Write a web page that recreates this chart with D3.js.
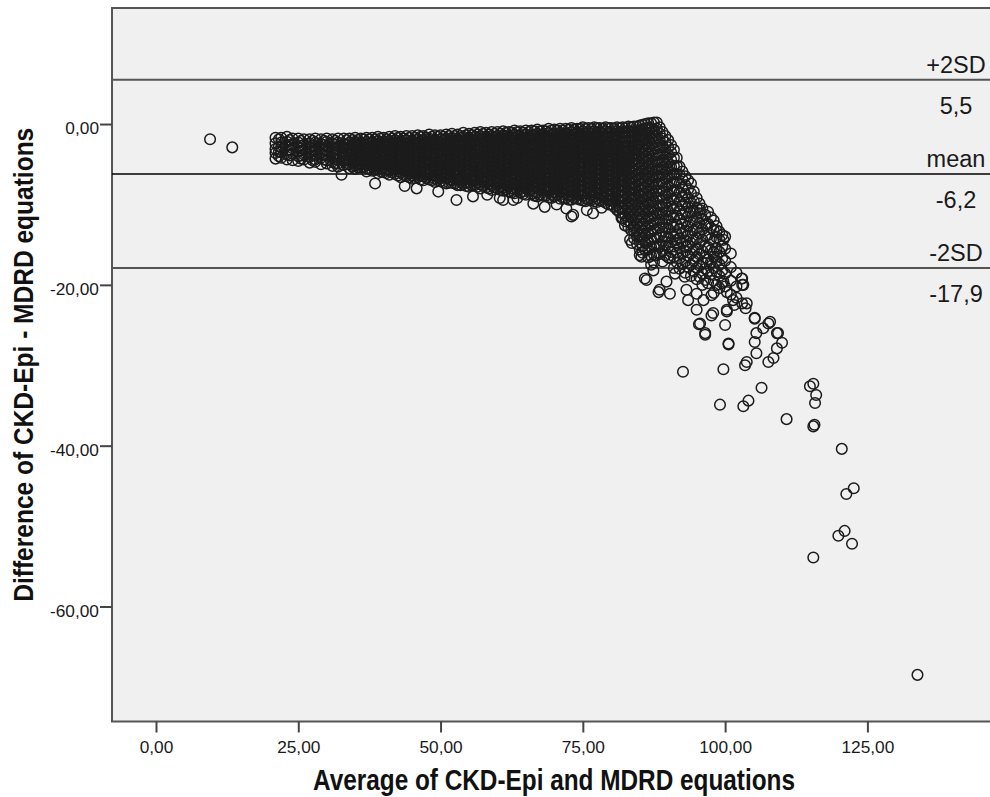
<!DOCTYPE html>
<html>
<head>
<meta charset="utf-8">
<script src="https://d3js.org/d3.v7.min.js"></script>
<style>
    html, body { margin: 0; background: #fff; }
    svg { display: block; }
</style>
</head>
<body>
<svg id="bland-altman" width="990" height="797"></svg>
<script>
// isolated low-GFR cases at the far left
const leftTail = [[9.5, -1.9], [13.4, -2.9]];

// dense band, read column by column: [average, [differences]]
const bandColumns = [
    [21, [-1.7, -2.4, -3.1, -3.6, -4.3]],
    [21.6, [-1.9, -2.8, -3.4, -4.0]],
    [22, [-1.7, -2.3, -2.9, -3.5, -4.2]],
    [23, [-1.6, -2.2, -2.7, -3.3, -3.8, -4.4]],
    [24, [-1.8, -2.5, -3.0, -3.7, -4.5]],
    [25, [-1.8, -2.3, -2.9, -3.4, -4.0, -4.6]],
    [26, [-1.9, -2.6, -3.2, -3.8, -4.4]],
    [27, [-1.9, -2.4, -3.0, -3.5, -4.1, -4.8]],
    [28, [-1.8, -2.3, -2.8, -3.3, -3.9, -4.4, -4.7]],
    [29, [-1.9, -2.5, -3.1, -3.6, -4.2, -5.0]],
    [30, [-1.8, -2.2, -2.8, -3.4, -3.9, -4.5, -4.9]],
    [31, [-1.9, -2.4, -3.0, -3.5, -4.1, -4.7, -5.2]],
    [32, [-1.8, -2.3, -2.8, -3.3, -3.8, -4.4, -4.9, -5.3]],
    [33, [-1.8, -2.5, -3.0, -3.6, -4.2, -4.6, -5.1]],
    [34, [-1.8, -2.3, -2.9, -3.4, -3.9, -4.5, -5.0, -5.5]],
    [35, [-1.7, -2.2, -2.7, -3.2, -3.7, -4.3, -4.8, -5.2, -5.6]],
    [36, [-1.8, -2.4, -2.9, -3.5, -4.0, -4.6, -5.0, -5.4]],
    [37, [-1.7, -2.2, -2.7, -3.1, -3.6, -4.1, -4.6, -5.1, -5.5, -5.9]],
    [38, [-1.7, -2.3, -2.8, -3.3, -3.9, -4.4, -4.9, -5.3, -5.8]],
    [39, [-1.6, -2.1, -2.6, -3.1, -3.6, -4.2, -4.7, -5.2, -5.6, -6.1]],
    [40, [-1.7, -2.2, -2.8, -3.3, -3.8, -4.3, -4.8, -5.4, -6.0]],
    [41, [-1.6, -2.1, -2.6, -3.2, -3.7, -4.2, -4.7, -5.2, -5.8, -6.3]],
    [42, [-1.5, -2.0, -2.5, -3.0, -3.5, -4.0, -4.6, -5.1, -5.6, -6.2]],
    [43, [-1.6, -2.2, -2.7, -3.3, -3.8, -4.4, -4.9, -5.5, -6.0, -6.6]],
    [44, [-1.5, -2.0, -2.5, -3.0, -3.6, -4.1, -4.7, -5.3, -5.8, -6.5]],
    [45, [-1.5, -2.1, -2.7, -3.2, -3.8, -4.3, -4.9, -5.4, -6.0, -6.4, -6.8]],
    [46, [-1.4, -1.9, -2.4, -3.0, -3.5, -4.0, -4.6, -5.1, -5.7, -6.2, -6.6]],
    [47, [-1.5, -2.0, -2.6, -3.1, -3.7, -4.2, -4.8, -5.3, -5.9, -6.5, -7.0]],
    [48, [-1.3, -1.8, -2.3, -2.9, -3.4, -3.9, -4.5, -5.0, -5.6, -6.1, -6.9]],
    [49, [-1.4, -2.0, -2.5, -3.1, -3.6, -4.2, -4.7, -5.3, -5.8, -6.4, -6.8, -7.2]],
    [50, [-1.4, -1.9, -2.4, -3.0, -3.5, -4.0, -4.6, -5.1, -5.7, -6.2, -6.7, -7.1]],
    [51, [-1.3, -1.8, -2.4, -2.9, -3.4, -4.0, -4.5, -5.0, -5.6, -6.1, -6.7, -7.4]],
    [52, [-1.2, -1.7, -2.2, -2.8, -3.3, -3.8, -4.4, -4.9, -5.5, -6.0, -6.6, -7.0, -7.3]],
    [53, [-1.3, -1.9, -2.4, -3.0, -3.5, -4.1, -4.6, -5.2, -5.7, -6.3, -6.9, -7.6]],
    [54, [-1.1, -1.6, -2.1, -2.7, -3.2, -3.7, -4.3, -4.8, -5.4, -5.9, -6.5, -7.0, -7.5]],
    [55, [-1.2, -1.8, -2.3, -2.9, -3.4, -4.0, -4.5, -5.1, -5.6, -6.2, -6.8, -7.3, -7.8]],
    [56, [-1.1, -1.6, -2.1, -2.6, -3.2, -3.7, -4.2, -4.8, -5.3, -5.9, -6.4, -7.0, -7.6]],
    [57, [-1.0, -1.5, -2.0, -2.6, -3.1, -3.6, -4.2, -4.7, -5.2, -5.8, -6.3, -6.9, -7.5, -8.0]],
    [58, [-1.1, -1.6, -2.2, -2.7, -3.3, -3.8, -4.4, -4.9, -5.5, -6.0, -6.6, -7.1, -7.9]],
    [59, [-1.0, -1.5, -2.0, -2.6, -3.1, -3.7, -4.2, -4.8, -5.3, -5.9, -6.4, -7.0, -7.6, -8.2]],
    [60, [-1.0, -1.5, -2.1, -2.6, -3.2, -3.7, -4.3, -4.8, -5.4, -5.9, -6.5, -7.0, -7.5, -8.0]],
    [61, [-0.9, -1.4, -1.9, -2.5, -3.0, -3.5, -4.1, -4.6, -5.2, -5.7, -6.3, -6.8, -7.4, -7.9, -8.3]],
    [62, [-1.0, -1.6, -2.1, -2.7, -3.2, -3.8, -4.3, -4.9, -5.4, -6.0, -6.5, -7.1, -7.7, -8.4]],
    [63, [-0.8, -1.3, -1.8, -2.4, -2.9, -3.5, -4.0, -4.6, -5.1, -5.7, -6.2, -6.8, -7.3, -7.9, -8.6]],
    [64, [-0.9, -1.5, -2.0, -2.6, -3.1, -3.7, -4.2, -4.8, -5.3, -5.9, -6.4, -7.0, -7.6, -8.1, -8.5]],
    [65, [-0.8, -1.3, -1.9, -2.4, -3.0, -3.5, -4.1, -4.6, -5.2, -5.7, -6.3, -6.9, -7.4, -8.0, -8.8]],
    [66, [-0.8, -1.4, -1.9, -2.5, -3.0, -3.6, -4.1, -4.7, -5.2, -5.8, -6.4, -6.9, -7.5, -8.1, -8.7]],
    [67, [-0.7, -1.2, -1.8, -2.3, -2.9, -3.4, -4.0, -4.5, -5.1, -5.6, -6.2, -6.8, -7.3, -7.9, -8.5, -9.0]],
    [68, [-0.8, -1.3, -1.9, -2.4, -3.0, -3.5, -4.1, -4.6, -5.2, -5.8, -6.3, -6.9, -7.4, -8.0, -8.9]],
    [69, [-0.6, -1.1, -1.7, -2.2, -2.8, -3.3, -3.9, -4.4, -5.0, -5.5, -6.1, -6.7, -7.2, -7.8, -8.4, -9.1]],
    [70, [-0.7, -1.2, -1.8, -2.3, -2.9, -3.4, -4.0, -4.5, -5.1, -5.7, -6.2, -6.8, -7.3, -7.9, -8.5, -9.0]],
    [71, [-0.6, -1.1, -1.7, -2.2, -2.8, -3.3, -3.9, -4.4, -5.0, -5.6, -6.1, -6.7, -7.3, -7.8, -8.4, -9.3]],
    [72, [-0.6, -1.2, -1.7, -2.3, -2.8, -3.4, -3.9, -4.5, -5.1, -5.6, -6.2, -6.8, -7.4, -8.0, -8.6, -9.2]],
    [73, [-0.5, -1.0, -1.6, -2.1, -2.7, -3.2, -3.8, -4.3, -4.9, -5.5, -6.0, -6.6, -7.2, -7.8, -8.3, -8.9, -9.4]],
    [74, [-0.6, -1.1, -1.7, -2.2, -2.8, -3.3, -3.9, -4.5, -5.0, -5.6, -6.2, -6.7, -7.3, -7.9, -8.5, -9.3]],
    [75, [-0.4, -0.9, -1.5, -2.0, -2.6, -3.1, -3.7, -4.2, -4.8, -5.4, -5.9, -6.5, -7.1, -7.7, -8.3, -8.9, -9.5]],
    [76, [-0.5, -1.0, -1.6, -2.1, -2.7, -3.2, -3.8, -4.4, -4.9, -5.5, -6.1, -6.7, -7.3, -7.9, -8.5, -9.4]],
    [77, [-0.4, -0.9, -1.5, -2.0, -2.6, -3.1, -3.7, -4.3, -4.8, -5.4, -6.0, -6.6, -7.2, -7.8, -8.4, -9.0, -9.6]],
    [78, [-0.5, -1.0, -1.6, -2.1, -2.7, -3.3, -3.8, -4.4, -5.0, -5.6, -6.2, -6.8, -7.4, -8.0, -8.7, -9.5]],
    [79, [-0.4, -0.9, -1.5, -2.0, -2.6, -3.2, -3.7, -4.3, -4.9, -5.5, -6.1, -6.7, -7.3, -7.9, -8.5, -9.2, -9.8]],
    [80, [-0.5, -1.0, -1.6, -2.2, -2.7, -3.3, -3.9, -4.5, -5.1, -5.7, -6.3, -6.9, -7.5, -8.1, -8.8, -9.4, -10.0]],
    [81, [-0.4, -0.9, -1.5, -2.1, -2.6, -3.2, -3.8, -4.4, -5.0, -5.6, -6.2, -6.8, -7.4, -8.0, -8.7, -9.4, -10.1, -10.7]],
    [82, [-0.4, -1.0, -1.6, -2.2, -2.8, -3.4, -4.0, -4.6, -5.2, -5.8, -6.4, -7.0, -7.6, -8.3, -9.0, -9.7, -10.4, -11.1, -11.7]],
    [83, [-0.3, -0.9, -1.5, -2.1, -2.7, -3.3, -3.9, -4.5, -5.1, -5.7, -6.3, -6.9, -7.6, -8.3, -9.0, -9.7, -10.4, -11.2, -12.0, -12.8]],
    [84, [-0.3, -0.9, -1.5, -2.1, -2.7, -3.3, -3.9, -4.5, -5.2, -5.9, -6.6, -7.3, -8.0, -8.7, -9.4, -10.2, -11.0, -11.8, -12.6, -13.4, -14.2]],
    [85, [-0.2, -0.8, -1.4, -2.0, -2.6, -3.3, -4.0, -4.7, -5.4, -6.1, -6.8, -7.5, -8.2, -8.9, -9.7, -10.5, -11.3, -12.1, -12.9, -13.8, -14.7, -15.6, -16.3]],
    [86, [0.0, -0.6, -1.2, -1.9, -2.6, -3.3, -4.0, -4.7, -5.5, -6.3, -7.1, -7.9, -8.7, -9.5, -10.3, -11.1, -12.0, -12.9, -13.8, -14.8, -15.7]],
    [87, [0.1, -0.5, -1.1, -1.8, -2.5, -3.3, -4.1, -4.9, -5.7, -6.5, -7.3, -8.1, -8.9, -9.8, -10.7, -11.6, -12.5, -13.4, -14.3, -15.3, -16.4, -17.5]],
    [88, [0.2, -0.6, -1.4, -2.2, -3.0, -3.9, -4.8, -5.7, -6.6, -7.5, -8.4, -9.3, -10.2, -11.1, -12.0, -13.0, -14.1, -15.2, -16.3]],
    [89, [-1.0, -1.8, -2.7, -3.6, -4.5, -5.4, -6.3, -7.3, -8.3, -9.3, -10.3, -11.3, -12.4, -13.4, -14.6, -15.8, -17.1]],
    [90, [-2.0, -2.9, -3.8, -4.8, -5.7, -6.7, -7.7, -8.7, -9.7, -10.8, -11.9, -13.0, -14.1, -15.3, -16.6]],
    [91, [-3.2, -4.2, -5.2, -6.2, -7.2, -8.3, -9.4, -10.5, -11.6, -12.8, -14.0, -15.2, -16.5, -17.9]],
    [92, [-5.3, -6.3, -7.4, -8.5, -9.6, -10.7, -11.8, -13.0, -14.2, -15.4, -16.7, -18.0]],
    [93, [-6.5, -7.6, -8.7, -9.8, -10.9, -12.1, -13.3, -14.5, -15.8, -17.1, -18.5]],
    [94, [-7.4, -8.6, -9.8, -11.0, -12.2, -13.5, -14.8, -16.1, -17.5, -18.9]],
    [95, [-9.2, -10.4, -11.6, -12.9, -14.2, -15.6, -16.5, -17.9, -19.3]],
    [96, [-10.5, -11.8, -13.1, -14.4, -15.8, -17.2, -18.6, -20.0]],
    [97, [-10.9, -12.4, -13.8, -15.3, -16.8, -18.3, -19.8]],
    [98, [-12.0, -13.2, -14.6, -16.0, -16.5, -17.9, -19.5, -21.0]],
    [99, [-13.4, -14.4, -15.9, -17.4, -18.9, -20.4]],
    [100, [-14.0, -15.5, -17.0, -18.6, -20.2]],
    [101, [-16.1, -17.8, -19.5, -21.2]],
    [102, [-18.5, -20.2, -21.6]],
    [103, [-19.2, -20.0, -22.3]]
];

// second pass over the band, between the columns above
const bandColumnsBetween = [
    [23.5, [-2.0, -2.6, -3.2, -3.9]],
    [25.5, [-2.1, -2.7, -3.3, -3.9, -4.3]],
    [27.5, [-2.1, -2.7, -3.3, -3.9, -4.5]],
    [29.5, [-2.1, -2.6, -3.2, -3.8, -4.4]],
    [31.5, [-2.1, -2.6, -3.2, -3.8, -4.4, -4.9]],
    [33.5, [-2.0, -2.6, -3.2, -3.8, -4.4, -5.0]],
    [34.5, [-2.0, -2.6, -3.1, -3.7, -4.2, -4.8, -5.3]],
    [35.5, [-2.0, -2.5, -3.0, -3.5, -4.0, -4.5, -5.0, -5.4]],
    [36.5, [-1.9, -2.5, -3.1, -3.7, -4.3, -4.8, -5.3]],
    [37.5, [-1.9, -2.4, -3.0, -3.5, -4.0, -4.5, -5.0, -5.6]],
    [38.5, [-1.9, -2.5, -3.0, -3.6, -4.1, -4.7, -5.2, -5.7]],
    [39.5, [-1.8, -2.4, -2.9, -3.4, -4.0, -4.5, -5.0, -5.5, -5.9]],
    [40.5, [-1.9, -2.5, -3.0, -3.6, -4.1, -4.6, -5.1, -5.7, -6.1]],
    [41.5, [-1.8, -2.3, -2.9, -3.4, -4.0, -4.5, -5.0, -5.5, -6.0]],
    [42.5, [-1.7, -2.3, -2.8, -3.3, -3.8, -4.3, -4.9, -5.4, -5.9, -6.4]],
    [43.5, [-1.8, -2.4, -3.0, -3.5, -4.1, -4.6, -5.2, -5.7, -6.3]],
    [44.5, [-1.7, -2.3, -2.8, -3.3, -3.9, -4.4, -5.0, -5.6, -6.1, -6.6]],
    [45.5, [-1.7, -2.4, -2.9, -3.5, -4.0, -4.6, -5.1, -5.7, -6.2, -6.7]],
    [46.5, [-1.6, -2.2, -2.7, -3.2, -3.8, -4.3, -4.9, -5.4, -5.9, -6.4, -6.9]],
    [47.5, [-1.7, -2.3, -2.8, -3.4, -3.9, -4.5, -5.0, -5.6, -6.2, -6.7]],
    [48.5, [-1.6, -2.1, -2.6, -3.1, -3.7, -4.2, -4.8, -5.3, -5.8, -6.4, -7.0]],
    [49.5, [-1.6, -2.2, -2.8, -3.3, -3.9, -4.4, -5.0, -5.5, -6.1, -6.6, -7.0]],
    [50.5, [-1.6, -2.1, -2.7, -3.2, -3.8, -4.3, -4.8, -5.4, -5.9, -6.5, -7.2]],
    [51.5, [-1.5, -2.1, -2.6, -3.2, -3.7, -4.2, -4.8, -5.3, -5.8, -6.4, -6.9, -7.3]],
    [52.5, [-1.5, -2.0, -2.5, -3.1, -3.6, -4.1, -4.7, -5.2, -5.8, -6.3, -6.8, -7.4]],
    [53.5, [-1.5, -2.1, -2.7, -3.2, -3.8, -4.3, -4.9, -5.4, -6.0, -6.6, -7.2, -7.6]],
    [54.5, [-1.4, -1.9, -2.4, -3.0, -3.5, -4.0, -4.6, -5.1, -5.7, -6.2, -6.8, -7.3, -7.7]],
    [55.5, [-1.4, -2.0, -2.6, -3.1, -3.7, -4.2, -4.8, -5.3, -5.9, -6.5, -7.0, -7.6]],
    [56.5, [-1.3, -1.8, -2.4, -2.9, -3.4, -4.0, -4.5, -5.0, -5.6, -6.1, -6.7, -7.3, -7.8]],
    [57.5, [-1.2, -1.8, -2.3, -2.8, -3.4, -3.9, -4.4, -5.0, -5.5, -6.1, -6.6, -7.2, -7.7]],
    [58.5, [-1.3, -1.9, -2.4, -3.0, -3.5, -4.1, -4.6, -5.2, -5.7, -6.3, -6.8, -7.4, -8.0]],
    [59.5, [-1.2, -1.7, -2.3, -2.8, -3.4, -3.9, -4.5, -5.0, -5.6, -6.1, -6.7, -7.3, -7.9]],
    [60.5, [-1.2, -1.8, -2.3, -2.9, -3.4, -4.0, -4.5, -5.1, -5.6, -6.2, -6.7, -7.3, -7.8, -8.2]],
    [61.5, [-1.1, -1.6, -2.2, -2.7, -3.3, -3.8, -4.3, -4.9, -5.4, -6.0, -6.5, -7.1, -7.6, -8.1]],
    [62.5, [-1.1, -1.7, -2.3, -2.9, -3.5, -4.0, -4.6, -5.1, -5.7, -6.2, -6.8, -7.4, -8.0, -8.5]],
    [63.5, [-1.0, -1.5, -2.1, -2.6, -3.2, -3.7, -4.3, -4.8, -5.4, -5.9, -6.5, -7.1, -7.6, -8.2]],
    [64.5, [-1.1, -1.7, -2.2, -2.8, -3.3, -3.9, -4.5, -5.0, -5.6, -6.1, -6.7, -7.3, -7.8, -8.4, -8.7]],
    [65.5, [-1.0, -1.6, -2.1, -2.7, -3.2, -3.8, -4.3, -4.9, -5.4, -6.0, -6.6, -7.1, -7.7, -8.3]],
    [66.5, [-0.9, -1.5, -2.1, -2.6, -3.2, -3.8, -4.3, -4.9, -5.4, -6.0, -6.6, -7.2, -7.8, -8.4, -8.9]],
    [67.5, [-0.9, -1.4, -2.0, -2.6, -3.1, -3.7, -4.2, -4.8, -5.3, -5.9, -6.5, -7.0, -7.6, -8.2, -8.8]],
    [68.5, [-0.9, -1.5, -2.1, -2.7, -3.2, -3.8, -4.3, -4.9, -5.5, -6.0, -6.6, -7.2, -7.7, -8.3, -8.9]],
    [69.5, [-0.8, -1.4, -1.9, -2.5, -3.0, -3.6, -4.2, -4.7, -5.3, -5.8, -6.4, -7.0, -7.5, -8.1, -8.7, -9.2]],
    [70.5, [-0.8, -1.4, -2.0, -2.6, -3.1, -3.7, -4.2, -4.8, -5.4, -5.9, -6.5, -7.1, -7.6, -8.2, -8.8]],
    [71.5, [-0.8, -1.3, -1.9, -2.4, -3.0, -3.6, -4.1, -4.7, -5.3, -5.8, -6.4, -7.0, -7.6, -8.1, -8.7, -9.2]],
    [72.5, [-0.7, -1.3, -1.9, -2.5, -3.1, -3.6, -4.2, -4.8, -5.3, -5.9, -6.5, -7.1, -7.7, -8.3, -8.9, -9.4]],
    [73.5, [-0.7, -1.3, -1.8, -2.4, -3.0, -3.5, -4.1, -4.6, -5.2, -5.8, -6.3, -6.9, -7.5, -8.1, -8.6, -9.2]],
    [74.5, [-0.6, -1.2, -1.8, -2.4, -3.0, -3.6, -4.2, -4.7, -5.3, -5.9, -6.5, -7.0, -7.6, -8.2, -8.8, -9.4]],
    [75.5, [-0.6, -1.2, -1.8, -2.3, -2.9, -3.4, -4.0, -4.5, -5.1, -5.7, -6.2, -6.8, -7.4, -8.0, -8.6, -9.2, -9.6]],
    [76.5, [-0.6, -1.2, -1.8, -2.4, -2.9, -3.5, -4.1, -4.6, -5.2, -5.8, -6.4, -7.0, -7.6, -8.2, -8.8, -9.4]],
    [77.5, [-0.5, -1.1, -1.7, -2.3, -2.9, -3.4, -4.0, -4.6, -5.1, -5.7, -6.3, -6.9, -7.5, -8.1, -8.7, -9.3, -9.7]],
    [78.5, [-0.6, -1.2, -1.8, -2.4, -3.0, -3.5, -4.1, -4.7, -5.3, -5.9, -6.5, -7.1, -7.7, -8.3, -8.9, -9.6]],
    [79.5, [-0.5, -1.1, -1.7, -2.3, -2.9, -3.4, -4.0, -4.6, -5.2, -5.8, -6.4, -7.0, -7.6, -8.2, -8.8, -9.5, -10.0]],
    [80.5, [-0.6, -1.2, -1.8, -2.4, -3.0, -3.6, -4.2, -4.8, -5.4, -6.0, -6.6, -7.2, -7.8, -8.5, -9.1, -9.7, -10.3]],
    [81.5, [-0.5, -1.1, -1.7, -2.3, -2.9, -3.5, -4.1, -4.7, -5.3, -5.9, -6.5, -7.1, -7.7, -8.4, -9.0, -9.7, -10.4, -11.0]],
    [82.5, [-0.5, -1.1, -1.7, -2.3, -3.0, -3.6, -4.2, -4.8, -5.4, -6.0, -6.6, -7.3, -7.9, -8.6, -9.3, -10.0, -10.7, -11.4, -12.1]],
    [83.5, [-0.4, -1.0, -1.7, -2.3, -2.9, -3.5, -4.1, -4.8, -5.4, -6.0, -6.7, -7.3, -8.0, -8.6, -9.3, -10.0, -10.8, -11.6, -12.4, -13.2]],
    [84.5, [-0.3, -0.9, -1.6, -2.3, -2.9, -3.6, -4.3, -5.0, -5.7, -6.4, -7.1, -7.8, -8.5, -9.2, -10.0, -10.8, -11.6, -12.4, -13.2, -14.0, -14.9]],
    [85.5, [-0.1, -0.7, -1.4, -2.1, -2.8, -3.5, -4.2, -5.0, -5.8, -6.6, -7.4, -8.2, -9.0, -9.8, -10.6, -11.5, -12.4, -13.3, -14.2, -15.2, -16.0]],
    [86.5, [0.1, -0.5, -1.2, -2.0, -2.8, -3.6, -4.4, -5.2, -6.0, -6.8, -7.6, -8.4, -9.2, -10.0, -10.9, -11.8, -12.7, -13.6, -14.6, -15.6, -16.6]],
    [87.5, [0.2, -0.7, -1.5, -2.3, -3.1, -3.9, -4.7, -5.5, -6.3, -7.1, -7.9, -8.7, -9.6, -10.5, -11.4, -12.3, -13.2, -14.2, -15.2, -16.2, -17.2]],
    [88.5, [-0.4, -1.2, -2.0, -2.9, -3.8, -4.7, -5.6, -6.5, -7.4, -8.3, -9.2, -10.1, -11.0, -11.9, -12.9, -13.9, -15.0, -16.1]],
    [89.5, [-1.5, -2.3, -3.2, -4.1, -5.0, -5.9, -6.8, -7.8, -8.8, -9.8, -10.8, -11.8, -12.9, -14.0, -15.1, -16.3]],
    [90.5, [-2.6, -3.5, -4.4, -5.3, -6.3, -7.3, -8.3, -9.3, -10.3, -11.4, -12.5, -13.6, -14.7, -15.9]],
    [91.5, [-4.2, -5.2, -6.2, -7.2, -8.2, -9.2, -10.3, -11.4, -12.5, -13.6, -14.8, -16.0, -17.2]],
    [92.5, [-5.9, -6.9, -7.9, -9.0, -10.1, -11.2, -12.4, -13.6, -14.8, -16.1, -17.4]],
    [93.5, [-7.0, -8.1, -9.2, -10.3, -11.5, -12.7, -13.9, -15.1, -16.4, -17.8]],
    [94.5, [-8.4, -9.6, -10.8, -12.0, -13.2, -14.4, -15.7, -17.0, -18.3]],
    [95.5, [-9.9, -11.1, -12.3, -13.6, -14.9, -16.2, -17.6, -19.0]],
    [96.5, [-11.3, -12.6, -13.9, -15.2, -16.6, -18.0, -19.4]],
    [97.5, [-11.6, -12.9, -14.3, -15.7, -17.2, -18.7]],
    [98.5, [-12.7, -14.1, -15.5, -17.0, -18.4, -20.0]],
    [99.5, [-13.8, -15.2, -16.7, -18.2, -19.8]]
];

// loose circles under the band
const strayPoints = [
    [32.6, -6.3], [38.5, -7.4], [43.7, -7.7], [45.8, -8.0], [49.6, -8.4],
    [52.8, -9.45], [55.7, -9.0], [61, -9.45], [63.5, -9.2], [68.3, -10.3],
    [72.1, -10.5], [73.3, -11.3], [76.8, -11.1], [73, -11.5], [81.2, -10.7],
    [81.8, -11.7], [82.4, -12.6], [83.3, -14.4], [83.6, -14.8], [85, -13.8],
    [83.9, -12.8], [66.3, -9.9], [60.4, -9.2], [62.8, -9.45], [58.2, -8.8],
    [75.7, -10.7], [79.8, -9.45], [70.4, -10.0], [78.3, -10.4]
];

// lower, sparser part of the falling arm
const armPoints = [
    [85.3, -16.5], [86.2, -19.4], [87.4, -18.2], [88.3, -20.9], [89.7, -19.6],
    [91.2, -18.6], [92.9, -19.0], [93.2, -20.6], [95, -21.1], [96.2, -21.9],
    [97.6, -21.3], [99.7, -19.6], [100.3, -20.9], [101.4, -21.9], [102.9, -19.2],
    [103.2, -20.0], [103.8, -22.3], [105.2, -24.2], [105.5, -26.0], [107.9, -24.6],
    [109.3, -26.0], [95.6, -24.8], [96.5, -26.0], [100.6, -27.3], [97.9, -23.5],
    [100.3, -23.1], [90.3, -16.7], [88.5, -15.3], [93.5, -21.9], [98.5, -16.5],
    [96.7, -17.3], [95, -16.5], [93.2, -15.3], [91.5, -14.4], [99.7, -14.4],
    [98.5, -13.2], [96.7, -12.4], [95.6, -10.7], [90.3, -21.1], [88.5, -20.6],
    [85.9, -19.2], [95, -23.1], [95.4, -24.9], [96.5, -26.2], [97.6, -23.8],
    [100, -25.0], [100.6, -27.4], [100.3, -23.3], [103.6, -22.9], [105.2, -24.1],
    [107.6, -24.8], [106.7, -25.4], [109.1, -26.0], [110, -27.2], [105.2, -27.1],
    [105.5, -28.5], [107.6, -29.6], [108.5, -29.1], [109.1, -27.9], [103.5, -30.0],
    [103.8, -29.6], [101.6, -22.5]
];

// far outliers
const outliers = [
    [92.6, -30.8], [99.7, -30.5], [99.1, -34.9], [103.2, -35.1], [104.1, -34.4],
    [106.4, -32.8], [110.8, -36.7], [114.9, -32.6], [115.5, -32.3], [116, -33.7],
    [115.8, -34.7], [115.5, -37.6], [115.7, -37.4], [120.5, -40.4], [122.6, -45.3],
    [121.3, -46.0], [121, -50.6], [119.9, -51.2], [122.3, -52.2], [115.5, -53.9],
    [133.8, -68.5]
];

const limitNames = ['+2SD', 'mean', '-2SD'];
const limitValues = [5.5, -6.2, -17.9];

const xTicks = [0, 25, 50, 75, 100, 125];
const yTicks = [0, -20, -40, -60];

const xTitle = 'Average of CKD-Epi and MDRD equations';
const yTitle = 'Difference of CKD-Epi - MDRD equations';

const plot = {left: 112, top: 8, right: 1000, bottom: 721.5};

const locale = d3.formatLocale({
    decimal: ',', thousands: '.', grouping: [3], currency: ['', ''], minus: '-'
});
const fmtTick = locale.format('.2f');
const fmtLimit = locale.format('.1f');

const xScale = d3.scaleLinear()
    .domain([-7.73, 148.3])
    .range([plot.left, plot.right]);

const yScale = d3.scaleLinear()
    .domain([14.43, -74.3])
    .range([plot.top, plot.bottom]);

const columnsToPoints = (cols) => cols.flatMap(([x, ys]) => ys.map(y => [x, y]));

const points = [].concat(
    leftTail,
    columnsToPoints(bandColumns),
    columnsToPoints(bandColumnsBetween),
    strayPoints,
    armPoints,
    outliers
);

const svg = d3.select('#bland-altman');

svg.append('rect')
    .attr('x', plot.left)
    .attr('y', plot.top)
    .attr('width', plot.right - plot.left)
    .attr('height', plot.bottom - plot.top)
    .attr('fill', '#f0f0f0')
    .attr('stroke', '#555')
    .attr('stroke-width', 2);

const limits = limitNames.map((name, i) => ({name, value: limitValues[i]}));

svg.selectAll('.limit').data(limits)
    .enter().append('line')
        .attr('class', 'limit')
        .attr('x1', plot.left)
        .attr('x2', plot.right)
        .attr('y1', d => yScale(d.value))
        .attr('y2', d => yScale(d.value))
        .attr('stroke', d => d.name === 'mean' ? '#000' : '#555')
        .attr('stroke-width', d => d.name === 'mean' ? 1.5 : 2);

svg.append('g').attr('class', 'points')
    .selectAll('circle').data(points)
    .enter().append('circle')
        .attr('cx', d => xScale(d[0]))
        .attr('cy', d => yScale(d[1]))
        .attr('r', 5.3)
        .attr('fill', 'none')
        .attr('stroke', '#1c1c1c')
        .attr('stroke-width', 1.5);

const labelX = 956;
const labels = svg.append('g')
    .attr('font-family', '"Liberation Sans", Arial, sans-serif')
    .attr('font-size', 23.5)
    .attr('fill', '#1a1a1a')
    .attr('text-anchor', 'middle');

labels.selectAll('.limit-name').data(limits)
    .enter().append('text')
        .attr('x', labelX)
        .attr('y', d => yScale(d.value) - 7)
        .text(d => d.name);

labels.selectAll('.limit-value').data(limits)
    .enter().append('text')
        .attr('x', labelX)
        .attr('y', d => yScale(d.value) + 34)
        .text(d => fmtLimit(d.value));

const xAxis = d3.axisBottom(xScale)
    .tickValues(xTicks)
    .tickFormat(fmtTick)
    .tickSize(11)
    .tickSizeOuter(0)
    .tickPadding(8);

const yAxis = d3.axisLeft(yScale)
    .tickValues(yTicks)
    .tickFormat(fmtTick)
    .tickSize(12)
    .tickSizeOuter(0)
    .tickPadding(1);

const styleAxis = (g) => {
    g.select('.domain').remove();
    g.selectAll('.tick line').attr('stroke', '#444').attr('stroke-width', 2);
    g.selectAll('.tick text')
        .attr('fill', '#1a1a1a')
        .attr('font-size', 17.3)
        .attr('font-family', '"Liberation Sans", Arial, sans-serif');
};

svg.append('g')
    .attr('transform', `translate(0, ${plot.bottom})`)
    .call(xAxis)
    .call(styleAxis);

svg.append('g')
    .attr('transform', `translate(${plot.left}, 0)`)
    .call(yAxis)
    .call(styleAxis)
    .selectAll('.tick text').attr('dy', '0.55em');

svg.append('text')
    .attr('x', (plot.left + plot.right) / 2 - 2)
    .attr('y', 790)
    .attr('text-anchor', 'middle')
    .attr('font-family', '"Liberation Sans Narrow", "Arial Narrow", "Liberation Sans", Arial, sans-serif')
    .attr('font-weight', 'bold')
    .attr('font-size', 29)
    .attr('textLength', 482)
    .attr('lengthAdjust', 'spacingAndGlyphs')
    .attr('fill', '#111')
    .text(xTitle);

svg.append('text')
    .attr('transform', `translate(33, ${(plot.top + plot.bottom) / 2}) rotate(-90)`)
    .attr('text-anchor', 'middle')
    .attr('font-family', '"Liberation Sans Narrow", "Arial Narrow", "Liberation Sans", Arial, sans-serif')
    .attr('font-weight', 'bold')
    .attr('font-size', 27)
    .attr('textLength', 474)
    .attr('lengthAdjust', 'spacingAndGlyphs')
    .attr('fill', '#111')
    .text(yTitle);
</script>
</body>
</html>
